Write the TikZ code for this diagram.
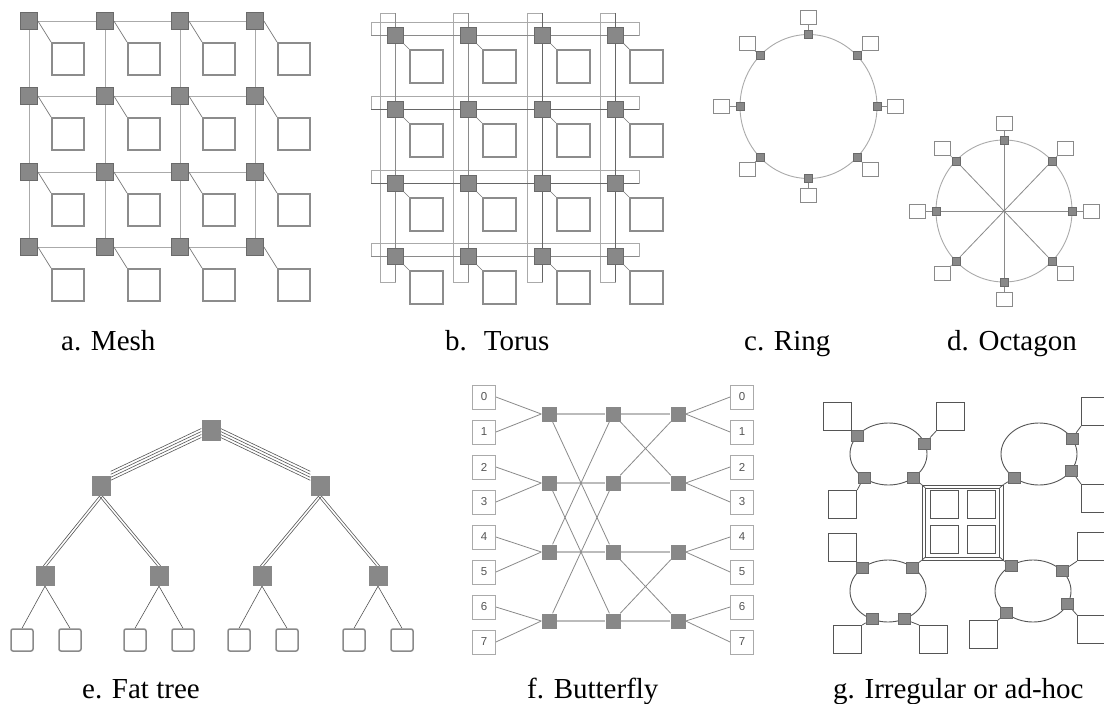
\documentclass[tikz,border=0pt]{standalone}
\usepackage{fontspec}
\setmainfont{Liberation Serif}
\newfontfamily\digitfont{Liberation Sans}
\usetikzlibrary{calc}
\pgfdeclarelayer{back}
\pgfdeclarelayer{bg}
\pgfsetlayers{back,bg,main}
\definecolor{rfill}{HTML}{888888}
\definecolor{rdraw}{HTML}{6A6A6A}
\definecolor{pdraw}{HTML}{8C8C8C}
\definecolor{lgray}{HTML}{AAAAAA}
\definecolor{mgray}{HTML}{8A8A8A}
\definecolor{dgray}{HTML}{555555}
\tikzset{
  router/.style={draw=rdraw, fill=rfill, line width=0.8pt, inner sep=0pt, minimum size=#1},
  router/.default=17pt,
  proc/.style={draw=pdraw, fill=white, line width=1.6pt, inner sep=0pt, minimum size=32pt},
  meshline/.style={draw=lgray, line width=1pt},
  plink/.style={draw=dgray!80, line width=0.7pt},
  torwrap/.style={draw=lgray, line width=1pt},
  tordark/.style={draw=dgray!90, line width=1pt},
  torlight/.style={draw=mgray, line width=1pt},
  srouter/.style={draw=rdraw, fill=rfill, line width=0.5pt, inner sep=0pt, minimum size=8pt},
  sproc/.style={draw=mgray, fill=white, line width=0.9pt, inner sep=0pt, minimum width=16pt, minimum height=14pt},
  ringline/.style={draw=lgray, line width=0.9pt},
  spoke/.style={draw=mgray, line width=0.8pt},
  froot/.style={fill=rfill, inner sep=0pt, minimum width=19pt, minimum height=21pt},
  fnode/.style={fill=rfill, inner sep=0pt, minimum width=19pt, minimum height=20pt},
  fleaf/.style={draw=mgray, fill=white, line width=1.5pt, rounded corners=2pt, inner sep=0pt, minimum size=22pt},
  flink/.style={draw=dgray, line width=0.6pt},
  bbox/.style={draw=lgray, fill=white, line width=0.8pt, inner sep=0pt, minimum width=23pt, minimum height=24pt,
     text=dgray, font=\digitfont\fontsize{11.5}{13}\selectfont},
  brouter/.style={fill=rfill, inner sep=0pt, minimum size=15pt},
  blink/.style={draw=mgray, line width=0.8pt},
  bhor/.style={draw=lgray!80, line width=1.4pt},
  iring/.style={draw=dgray, line width=0.9pt},
  irouter/.style={draw=rdraw, fill=rfill, line width=0.5pt, inner sep=0pt, minimum width=12pt, minimum height=11pt},
  iproc/.style={draw=dgray, fill=white, line width=1.2pt, inner sep=0pt, minimum size=28pt},
  ilink/.style={draw=dgray, line width=0.8pt},
  figcaption/.style={anchor=base west, inner sep=0pt, font=\fontsize{29}{34}\selectfont},
}
\begin{document}
\begin{tikzpicture}[x=1pt,y=-1pt]
\useasboundingbox (0,0) rectangle (1104,704);
\begin{pgfonlayer}{back}
\fill[white] (0,0) rectangle (1104,704);
\end{pgfonlayer}

% ---------------- a. Mesh ----------------
\foreach \i/\x in {1/29,2/105,3/180,4/255}{
  \foreach \j/\y in {1/21,2/96,3/172,4/247}{
    \node[router] (m\i\j) at (\x,\y) {};
    \node[proc, anchor=north west] (mp\i\j) at (\x+22,\y+21) {};
  }}
\begin{pgfonlayer}{bg}
\foreach \j in {1,...,4}{\draw[meshline] (m1\j) -- (m2\j) -- (m3\j) -- (m4\j);}
\foreach \i in {1,...,4}{\draw[meshline] (m\i1) -- (m\i2) -- (m\i3) -- (m\i4);}
\foreach \i in {1,...,4}{\foreach \j in {1,...,4}{\draw[plink] (m\i\j.east) -- (mp\i\j.north west);}}
\end{pgfonlayer}

% ---------------- b. Torus ----------------
\foreach \i/\x in {1/395,2/468,3/542,4/615}{
  \foreach \j/\y in {1/35,2/109,3/183,4/256}{
    \node[router=16pt] (t\i\j) at (\x,\y) {};
    \node[proc, minimum size=33pt, anchor=north west] (tp\i\j) at (\x+14,\y+14) {};
  }}
\begin{pgfonlayer}{bg}
\foreach \j in {1,...,4}{\draw[torwrap] ($(t1\j)+(-24,-13)$) rectangle ($(t4\j)+(24,0)$);}
\foreach \i in {1,...,4}{\draw[torwrap] ($(t\i1)+(-15,-22)$) rectangle ($(t\i4)+(0,26)$);}
\foreach \j in {1,4}{\draw[torlight] ($(t1\j)+(-24,0)$) -- ($(t4\j)+(24,0)$);}
\foreach \j in {2,3}{\draw[tordark] ($(t1\j)+(-24,0)$) -- ($(t4\j)+(24,0)$);}
\foreach \i in {1,2}{\draw[torlight] ($(t\i1)+(0,-22)$) -- ($(t\i4)+(0,26)$);}
\foreach \i in {3,4}{\draw[tordark] ($(t\i1)+(0,-22)$) -- ($(t\i4)+(0,26)$);}
\foreach \i in {1,...,4}{\foreach \j in {1,...,4}{\draw[plink] (t\i\j.south east) -- (tp\i\j.north west);}}
\end{pgfonlayer}

% ---------------- c. Ring ----------------
\coordinate (rc) at (808.5,106.5);
\foreach \k in {0,...,7}{
  \pgfmathsetmacro\ang{45*\k}
  \node[srouter] (rr\k) at ({808.5+68.5*cos(\ang)},{106.5-72*sin(\ang)}) {};
  \node[sproc] (rb\k) at ({808.5+87*cos(\ang)},{106.5-89*sin(\ang)}) {};
}
\begin{pgfonlayer}{bg}
\draw[ringline] (rc) ellipse [x radius=68.5, y radius=72];
\foreach \k in {0,...,7}{\draw[spoke] (rr\k) -- (rb\k);}
\end{pgfonlayer}

% ---------------- d. Octagon ----------------
\coordinate (oc) at (1004,211);
\foreach \k in {0,...,7}{
  \pgfmathsetmacro\ang{45*\k}
  \node[srouter] (or\k) at ({1004+68*cos(\ang)},{211-71*sin(\ang)}) {};
  \node[sproc] (ob\k) at ({1004+87*cos(\ang)},{211-88*sin(\ang)}) {};
}
\begin{pgfonlayer}{bg}
\draw[ringline] (oc) ellipse [x radius=68, y radius=71];
\foreach \k in {0,...,7}{\draw[spoke] (or\k) -- (ob\k); \draw[spoke] (oc) -- (or\k);}
\end{pgfonlayer}

% ---------------- e. Fat tree ----------------
\node[froot] (ft) at (211,430) {};
\node[fnode] (fl) at (101,486) {};
\node[fnode] (fr) at (320,486) {};
\node[fnode] (f1) at (45,576) {};
\node[fnode] (f2) at (159,576) {};
\node[fnode] (f3) at (262,576) {};
\node[fnode] (f4) at (378,576) {};
\foreach \n/\x in {1/22,2/70,3/135,4/183,5/239,6/287,7/354,8/402}{
  \node[fleaf] (fa\n) at (\x,640) {};
}
\begin{pgfonlayer}{bg}
\foreach \d in {-4.5,-1.5,1.5,4.5}{
  \draw[flink] ([yshift=\d pt-3pt]ft.west) -- ([yshift=\d pt]fl.north east);
  \draw[flink] ([yshift=\d pt-3pt]ft.east) -- ([yshift=\d pt]fr.north west);
}
\foreach \p/\c in {fl/f1,fl/f2,fr/f3,fr/f4}{
  \foreach \d in {-1.6,1.6}{\draw[flink] ([xshift=\d pt]\p.south) -- ([xshift=\d pt]\c.north);}
}
\foreach \p/\a/\b in {f1/1/2,f2/3/4,f3/5/6,f4/7/8}{
  \draw[flink] (\p.south) -- (fa\a.north);
  \draw[flink] (\p.south) -- (fa\b.north);
}
\end{pgfonlayer}

% ---------------- f. Butterfly ----------------
\foreach \i in {0,...,7}{
  \node[bbox] (lb\i) at (484,{397+35*\i}) {\i};
  \node[bbox] (rbx\i) at (742,{397+35*\i}) {\i};
}
\foreach \c/\x in {1/549,2/613,3/678}{
  \foreach \r/\y in {0/414,1/483,2/552,3/621}{
    \node[brouter] (bf\c\r) at (\x,\y) {};
  }}
\begin{pgfonlayer}{bg}
\foreach \r in {0,...,3}{\draw[bhor] (bf1\r) -- (bf2\r) -- (bf3\r);}
\foreach \i/\r in {0/0,1/0,2/1,3/1,4/2,5/2,6/3,7/3}{
  \draw[blink] (lb\i.east) -- (bf1\r.west);
  \draw[blink] (bf3\r.east) -- (rbx\i.west);
}
\foreach \a/\b in {0/2,1/3,2/0,3/1}{\draw[blink] (bf1\a) -- (bf2\b);}
\foreach \a/\b in {0/1,1/0,2/3,3/2}{\draw[blink] (bf2\a) -- (bf3\b);}
\end{pgfonlayer}

% ---------------- g. Irregular ----------------
\foreach \n/\a in {1/145,2/20,3/230,4/310}{
  \node[irouter] (ia\n) at ({888.5+38.5*cos(\a)},{454-31*sin(\a)}) {};}
\foreach \n/\a in {1/30,2/-32,3/230}{
  \node[irouter] (ib\n) at ({1039+38*cos(\a)},{454-31*sin(\a)}) {};}
\foreach \n/\a in {1/132,2/50,3/245,4/295}{
  \node[irouter] (ic\n) at ({888+38*cos(\a)},{591-31*sin(\a)}) {};}
\foreach \n/\a in {1/125,2/40,3/-25,4/225}{
  \node[irouter] (id\n) at ({1033+38*cos(\a)},{591-31*sin(\a)}) {};}
\node[iproc, anchor=north west] (ip1) at (823,402) {};
\node[iproc, anchor=north west] (ip2) at (936,402) {};
\node[iproc, anchor=north west] (ip3) at (828,490) {};
\node[iproc, anchor=north west] (ip4) at (1081,397) {};
\node[iproc, anchor=north west] (ip5) at (1081,484) {};
\node[iproc, anchor=north west] (ip6) at (828,533) {};
\node[iproc, anchor=north west] (ip7) at (833,625) {};
\node[iproc, anchor=north west] (ip8) at (919,625) {};
\node[iproc, anchor=north west] (ip9) at (1077,532) {};
\node[iproc, anchor=north west] (ip10) at (1077,615) {};
\node[iproc, anchor=north west] (ip11) at (969,620) {};
\node[draw=dgray, line width=0.9pt, minimum width=81pt, minimum height=75pt, inner sep=0pt] (fro) at (962.5,522.5) {};
\node[draw=dgray, line width=0.7pt, minimum width=74pt, minimum height=69pt, inner sep=0pt] (fri) at (962.5,522.5) {};
\node[iproc, anchor=north west] (ic11) at (930,490) {};
\node[iproc, anchor=north west] (ic12) at (967,490) {};
\node[iproc, anchor=north west] (ic21) at (930,525) {};
\node[iproc, anchor=north west] (ic22) at (967,525) {};
\begin{pgfonlayer}{bg}
\draw[iring] (888.5,454) ellipse [x radius=38.5, y radius=31];
\draw[iring] (1039,454) ellipse [x radius=38, y radius=31];
\draw[iring] (888,591) ellipse [x radius=38, y radius=31];
\draw[iring] (1033,591) ellipse [x radius=38, y radius=31];
\foreach \c in {north west,north east,south west,south east}{\draw[ilink] (fro.\c) -- (fri.\c);}
\draw[ilink] (ia1) -- (ip1.south east);
\draw[ilink] (ia2) -- (ip2.south west);
\draw[ilink] (ia3) -- (ip3.north east);
\draw[ilink] (ia4) -- (fro.north west);
\draw[ilink] (ib1) -- (ip4.south west);
\draw[ilink] (ib2) -- (ip5.north west);
\draw[ilink] (ib3) -- (fro.north east);
\draw[ilink] (ic1) -- (ip6.south east);
\draw[ilink] (ic2) -- (fro.south west);
\draw[ilink] (ic3) -- (ip7.north east);
\draw[ilink] (ic4) -- (ip8.north west);
\draw[ilink] (id1) -- (fro.south east);
\draw[ilink] (id2) -- (ip9.south west);
\draw[ilink] (id3) -- (ip10.north west);
\draw[ilink] (id4) -- (ip11.north east);
\end{pgfonlayer}

% ---------------- captions ----------------
\node[figcaption] (ca) at (61,350) {a. Mesh};
\node[figcaption] (cb) at (445,350) {b.~ Torus};
\node[figcaption] (cc) at (744,350) {c. Ring};
\node[figcaption] (cd) at (947,350) {d. Octagon};
\node[figcaption] (ce) at (82,698) {e. Fat tree};
\node[figcaption] (cf) at (527,698) {f. Butterfly};
\node[figcaption] (cg) at (833,698) {g. Irregular or ad-hoc};
\end{tikzpicture}
\end{document}
